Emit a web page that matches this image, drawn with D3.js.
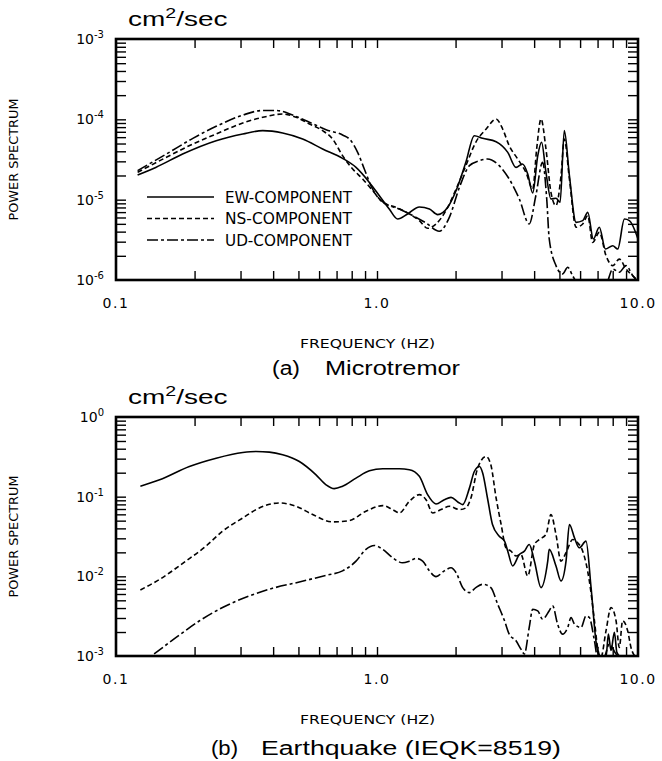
<!DOCTYPE html>
<html><head><meta charset="utf-8">
<script src="https://cdn.jsdelivr.net/npm/d3@7"></script>
<style>body{margin:0;background:#fff} svg{display:block}</style>
</head><body>
<svg id="c" width="662" height="761"></svg>
<script>
// ---------------- data ----------------
const freqTickLabels = [[0.1, "0.1"], [1, "1.0"], [10, "10.0"]];
const microYLabels = [[1e-3, "-3"], [1e-4, "-4"], [1e-5, "-5"], [1e-6, "-6"]];
const quakeYLabels = [[1, "0"], [1e-1, "-1"], [1e-2, "-2"], [1e-3, "-3"]];
const seriesNames = ["EW-COMPONENT", "NS-COMPONENT", "UD-COMPONENT"];
const captions = ["(a)", "Microtremor", "(b)", "Earthquake (IEQK=8519)"];

// (a) Microtremor: [frequency Hz, power cm^2/sec]
const microEW = [[0.121,2.03e-5],[0.142,2.52e-5],[0.180,3.70e-5],[0.242,5.42e-5],[0.306,6.57e-5],[0.365,7.23e-5],[0.435,6.76e-5],[0.519,5.69e-5],[0.619,4.28e-5],[0.738,3.27e-5],[0.831,2.52e-5],[0.935,1.64e-5],[1.021,1.12e-5],[1.114,7.65e-6],[1.200,5.74e-6],[1.310,6.64e-6],[1.453,8.11e-6],[1.588,7.65e-6],[1.708,6.51e-6],[1.866,8.03e-6],[2.01,1.30e-5],[2.19,2.92e-5],[2.36,6.26e-5],[2.54,5.80e-5],[2.86,5.27e-5],[3.17,3.88e-5],[3.41,2.52e-5],[3.61,2.78e-5],[3.78,2.09e-5],[3.95,1.21e-5],[4.13,3.53e-5],[4.27,5.18e-5],[4.44,2.19e-5],[4.64,1.02e-5],[4.85,1.04e-5],[5.03,9.27e-6],[5.22,7.23e-5],[5.46,1.99e-5],[5.79,5.22e-6],[6.14,5.48e-6],[6.42,6.95e-6],[6.74,3.24e-6],[7.11,4.53e-6],[7.50,2.43e-6],[8.00,2.67e-6],[8.36,2.43e-6],[8.87,5.74e-6],[9.27,5.48e-6],[10.0,3.24e-6]];
const microNS = [[0.121,2.19e-5],[0.156,3.37e-5],[0.197,4.93e-5],[0.242,6.57e-5],[0.306,9.0e-5],[0.365,1.06e-4],[0.435,1.165e-4],[0.490,1.06e-4],[0.551,8.75e-5],[0.619,7.23e-5],[0.676,5.69e-5],[0.738,3.53e-5],[0.807,2.41e-5],[0.881,1.81e-5],[0.962,1.30e-5],[1.052,9.27e-6],[1.183,8.03e-6],[1.330,6.64e-6],[1.453,5.48e-6],[1.563,4.40e-6],[1.683,4.98e-6],[1.837,7.29e-6],[2.01,1.36e-5],[2.19,2.65e-5],[2.39,5.18e-5],[2.62,7.58e-5],[2.86,1.01e-4],[3.03,7.58e-5],[3.21,4.70e-5],[3.46,3.21e-5],[3.72,2.19e-5],[3.95,1.36e-5],[4.09,4.28e-5],[4.25,1.01e-4],[4.44,4.28e-5],[4.64,1.23e-5],[4.85,8.42e-6],[5.07,1.99e-5],[5.22,5.69e-5],[5.46,1.81e-5],[5.79,4.53e-6],[6.14,4.98e-6],[6.42,6.32e-6],[6.70,2.94e-6],[7.11,3.92e-6],[7.54,2.01e-6],[8.00,1.51e-6],[8.48,1.82e-6],[9.00,1.37e-6],[9.55,1.13e-6],[10.0,0.98e-6]];
const microUD = [[0.121,2.30e-5],[0.156,3.70e-5],[0.197,5.80e-5],[0.242,8.18e-5],[0.306,1.13e-4],[0.365,1.29e-4],[0.410,1.29e-4],[0.475,1.13e-4],[0.551,9.18e-5],[0.638,7.43e-5],[0.738,6.38e-5],[0.795,5.42e-5],[0.843,3.88e-5],[0.894,2.41e-5],[0.948,1.49e-5],[1.007,1.07e-5],[1.082,8.83e-6],[1.218,7.65e-6],[1.371,6.32e-6],[1.541,5.13e-6],[1.732,4.04e-6],[1.893,6.03e-6],[2.07,1.43e-5],[2.26,2.65e-5],[2.47,3.06e-5],[2.65,3.21e-5],[2.94,2.65e-5],[3.21,1.81e-5],[3.51,1.02e-5],[3.83,4.98e-6],[4.06,1.12e-5],[4.31,2.92e-5],[4.47,1.02e-5],[4.57,3.24e-6],[4.85,1.51e-6],[5.14,1.19e-6],[5.38,1.44e-6],[5.62,1.13e-6],[5.90,0.9e-6],[7.54,0.9e-6],[8.00,1.37e-6],[8.48,1.25e-6],[9.00,1.51e-6],[9.55,1.13e-6],[10.0,0.95e-6]];

// (b) Earthquake
const quakeEW = [[0.124,0.135],[0.147,0.163],[0.191,0.239],[0.242,0.304],[0.306,0.358],[0.344,0.369],[0.387,0.362],[0.435,0.335],[0.504,0.276],[0.584,0.188],[0.638,0.141],[0.686,0.126],[0.738,0.135],[0.831,0.171],[0.935,0.211],[1.052,0.224],[1.218,0.224],[1.330,0.218],[1.453,0.180],[1.563,0.106],[1.683,0.0810],[1.811,0.0917],[1.921,0.098],[2.04,0.0858],[2.13,0.0794],[2.26,0.128],[2.36,0.207],[2.47,0.239],[2.54,0.198],[2.65,0.0962],[2.77,0.0447],[2.94,0.0319],[3.08,0.0277],[3.17,0.0207],[3.31,0.0135],[3.51,0.0188],[3.67,0.0207],[3.83,0.0251],[4.01,0.0155],[4.25,0.00722],[4.51,0.0155],[4.57,0.0218],[4.85,0.0135],[5.07,0.00874],[5.30,0.0155],[5.46,0.0447],[5.71,0.0304],[5.96,0.0228],[6.32,0.0277],[6.61,0.00722],[6.90,0.00155],[7.11,0.00096],[7.54,0.00096],[7.70,0.00188],[7.88,0.00117],[8.12,0.00198],[8.30,0.00111],[8.60,0.00096]];
const quakeNS = [[0.124,0.00675],[0.147,0.00917],[0.185,0.0155],[0.221,0.0239],[0.256,0.0369],[0.306,0.0541],[0.354,0.0722],[0.423,0.0834],[0.490,0.0757],[0.567,0.0596],[0.676,0.0482],[0.783,0.0501],[0.907,0.0656],[1.052,0.0772],[1.148,0.0688],[1.218,0.0625],[1.330,0.0874],[1.453,0.106],[1.541,0.0917],[1.634,0.0625],[1.759,0.0688],[1.893,0.0757],[2.07,0.0688],[2.19,0.0722],[2.29,0.0962],[2.43,0.228],[2.62,0.319],[2.73,0.251],[2.86,0.0962],[2.99,0.0447],[3.12,0.0228],[3.26,0.0207],[3.41,0.0180],[3.56,0.0188],[3.78,0.0101],[4.01,0.0251],[4.19,0.0290],[4.44,0.0335],[4.64,0.0596],[4.85,0.0335],[5.07,0.0155],[5.30,0.0198],[5.62,0.0290],[5.87,0.0264],[6.14,0.0207],[6.51,0.00874],[6.81,0.00277],[7.00,0.00128],[7.21,0.00096],[7.54,0.00207],[7.88,0.00406],[8.24,0.00277],[8.48,0.00128],[8.73,0.00277],[9.13,0.00207],[9.40,0.00128],[9.82,0.00096]];
const quakeUD = [[0.140,0.00106],[0.170,0.00171],[0.209,0.00277],[0.256,0.00406],[0.324,0.00568],[0.398,0.00708],[0.504,0.00849],[0.638,0.0103],[0.738,0.0117],[0.831,0.0155],[0.907,0.0218],[0.977,0.0244],[1.052,0.0218],[1.148,0.0171],[1.253,0.0148],[1.330,0.0155],[1.410,0.0168],[1.496,0.0155],[1.588,0.0117],[1.683,0.00991],[1.811,0.0117],[1.921,0.0128],[2.01,0.0111],[2.13,0.00722],[2.26,0.00625],[2.39,0.00722],[2.54,0.00794],[2.73,0.00722],[2.90,0.00447],[3.08,0.00277],[3.21,0.00188],[3.41,0.00155],[3.56,0.00122],[3.67,0.00106],[3.83,0.00228],[3.95,0.00387],[4.13,0.00369],[4.31,0.00290],[4.57,0.00369],[4.71,0.00426],[4.92,0.00251],[5.14,0.00188],[5.38,0.00228],[5.54,0.00304],[5.71,0.00251],[6.05,0.00228],[6.32,0.00319],[6.51,0.00304],[6.81,0.00155],[7.00,0.00096],[7.40,0.00096],[7.76,0.00141],[8.24,0.00106],[8.48,0.00096]];

// ---------------- drawing ----------------
const svg = d3.select("#c");
const PLOT_FONT = "'DejaVu Sans', sans-serif";
const CAP_FONT = "'Liberation Sans', Arial, sans-serif";
const dashes = [null, "5,3", "11,3,3,3"];

function minorTicks(lo, hi) {
  const out = [];
  for (let d = Math.round(Math.log10(lo)); d < Math.round(Math.log10(hi)); d++) {
    for (let k = 1; k <= 9; k++) {
      const v = k * Math.pow(10, d);
      if (v > lo * 1.0001 && v < hi * 0.9999) out.push(v);
    }
  }
  return out;
}

function panel(cfg) {
  const {left, right, top, bottom, ydom, series, yLabels, id} = cfg;
  const x = d3.scaleLog().domain([0.1, 10]).range([left, right]);
  const y = d3.scaleLog().domain(ydom).range([bottom, top]);
  const g = svg.append("g");

  g.append("clipPath").attr("id", id).append("rect")
    .attr("x", left).attr("y", top).attr("width", right - left).attr("height", bottom - top);

  const xt = minorTicks(0.1, 10), yt = minorTicks(ydom[0], ydom[1]);
  const tickStyle = s => s.call(a => a.select(".domain").remove())
    .call(a => a.selectAll("line").attr("stroke", "#000").attr("stroke-width", 1.4));
  g.append("g").attr("transform", `translate(0,${bottom})`)
    .call(d3.axisBottom(x).tickValues(xt).tickSize(-9).tickFormat("")).call(tickStyle);
  g.append("g").attr("transform", `translate(0,${top})`)
    .call(d3.axisTop(x).tickValues(xt).tickSize(-9).tickFormat("")).call(tickStyle);
  g.append("g").attr("transform", `translate(${left},0)`)
    .call(d3.axisLeft(y).tickValues(yt).tickSize(-10).tickFormat("")).call(tickStyle);
  g.append("g").attr("transform", `translate(${right},0)`)
    .call(d3.axisRight(y).tickValues(yt).tickSize(-10).tickFormat("")).call(tickStyle);

  g.append("rect").attr("x", left).attr("y", top).attr("width", right - left).attr("height", bottom - top)
    .attr("fill", "none").attr("stroke", "#000").attr("stroke-width", 2.6);

  const line = d3.line().x(d => x(d[0])).y(d => y(d[1])).curve(d3.curveMonotoneX);
  series.forEach((s, i) => {
    g.append("path").datum(s).attr("d", line).attr("clip-path", `url(#${id})`)
      .attr("fill", "none").attr("stroke", "#000").attr("stroke-width", 1.6)
      .attr("stroke-dasharray", dashes[i]);
  });

  // x tick labels
  freqTickLabels.forEach(([v, t]) => {
    g.append("text").attr("x", x(v)).attr("y", bottom + 28).attr("text-anchor", "middle")
      .attr("font-family", PLOT_FONT).attr("font-size", 14).attr("letter-spacing", 1.5).text(t);
  });
  // y tick labels
  yLabels.forEach(([v, e]) => {
    const t = g.append("text").attr("x", left - 12).attr("y", y(v) + 5).attr("text-anchor", "end")
      .attr("font-family", PLOT_FONT).attr("font-size", 14);
    t.append("tspan").text("10");
    t.append("tspan").attr("dy", -6).attr("font-size", 10).text(e);
  });
  // y axis title
  g.append("text").attr("transform", `translate(18,${(top + bottom) / 2}) rotate(-90)`)
    .attr("text-anchor", "middle").attr("font-family", PLOT_FONT).attr("font-size", 12.5)
    .attr("textLength", 122).attr("lengthAdjust", "spacingAndGlyphs").text("POWER SPECTRUM");
  // unit
  const u = g.append("g").attr("transform", `translate(128,${top - 13}) scale(1.4,1)`)
    .append("text").attr("font-family", CAP_FONT).attr("font-size", 20);
  u.append("tspan").text("cm");
  u.append("tspan").attr("dy", -8).attr("font-size", 14).text("2");
  u.append("tspan").attr("dy", 8).text("/sec");
  // x axis title
  g.append("text").attr("x", 300).attr("y", bottom + 68).attr("font-family", PLOT_FONT)
    .attr("font-size", 13).attr("textLength", 135).attr("lengthAdjust", "spacingAndGlyphs")
    .text("FREQUENCY (HZ)");
  return {x, y, g};
}

const P1 = panel({id: "clipA", left: 116, right: 638, top: 39, bottom: 280, ydom: [1e-6, 1e-3],
  series: [microEW, microNS, microUD], yLabels: microYLabels});
const P2 = panel({id: "clipB", left: 116, right: 638, top: 417, bottom: 656, ydom: [1e-3, 1],
  series: [quakeEW, quakeNS, quakeUD], yLabels: quakeYLabels});

// legend (top panel)
seriesNames.forEach((n, i) => {
  const yy = 197 + i * 21.5;
  P1.g.append("line").attr("x1", 147).attr("x2", 214).attr("y1", yy).attr("y2", yy)
    .attr("stroke", "#000").attr("stroke-width", 1.5).attr("stroke-dasharray", dashes[i]);
  P1.g.append("text").attr("x", 225).attr("y", yy + 5.5).attr("font-family", PLOT_FONT)
    .attr("font-size", 15).attr("textLength", 127).attr("lengthAdjust", "spacingAndGlyphs").text(n);
});

// captions
function cap(x, y, len, t) {
  svg.append("text").attr("x", x).attr("y", y).attr("font-family", CAP_FONT).attr("font-size", 20)
    .attr("textLength", len).attr("lengthAdjust", "spacingAndGlyphs").text(t);
}
cap(272, 375, 28, captions[0]);
cap(325, 375, 135, captions[1]);
cap(211, 755, 27, captions[2]);
cap(261, 755, 300, captions[3]);
</script>
</body></html>
